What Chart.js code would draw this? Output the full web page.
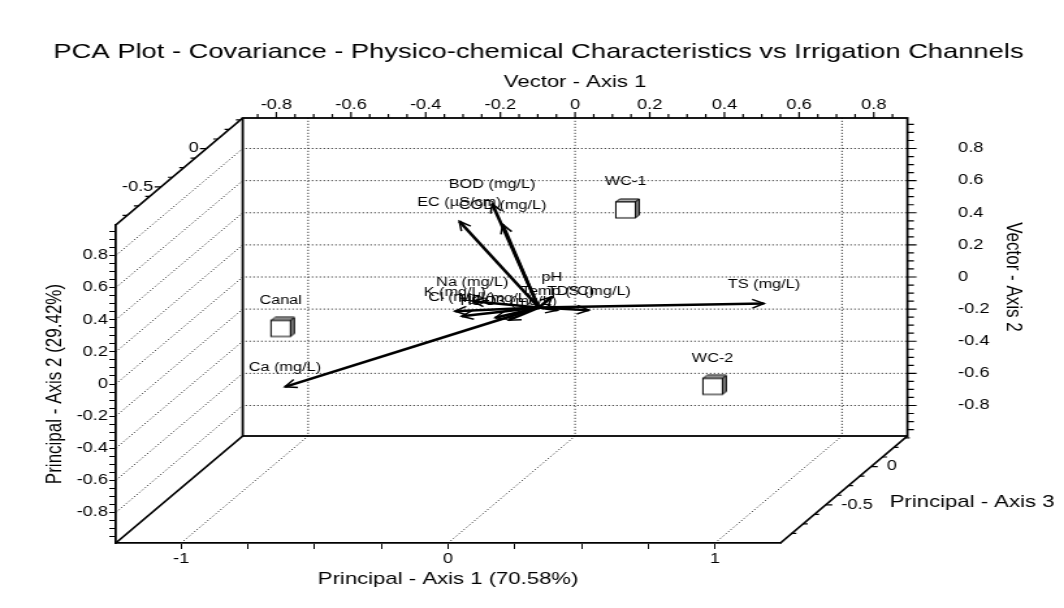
<!DOCTYPE html>
<html>
<head>
<meta charset="utf-8">
<script src="https://cdn.jsdelivr.net/npm/chart.js@4.4.1/dist/chart.umd.min.js"></script>
<style>
  html, body { margin: 0; padding: 0; background: #fff; }
</style>
</head>
<body>
<!-- drawn at 818px and stretched to 1064px, the source image is stretched the same way -->
<canvas id="pca" width="818" height="608" style="width:1064px;height:608px"></canvas>
<script>
// samples (PCA scores) - only two axes carry variance, so Axis 3 is 0
const samples = ['Canal', 'WC-1', 'WC-2'];
const sampleAxis1 = [-0.967, 0.325, 0.651];
const sampleAxis2 = [-0.130, 0.608, -0.491];
const sampleAxis3 = [0, 0, 0];

// variable vectors, tip read on the Vector axes
const variables = ['TS (mg/L)', 'Ca (mg/L)', 'EC (µS/cm)', 'BOD (mg/L)', 'COD (mg/L)', 'K (mg/L)', 'Na (mg/L)',
                   'Cl (mg/L)', 'Mg (mg/L)', 'HCO3 (mg/L)', 'pH', 'Temp (°C)', 'TDS (mg/L)'];
const vectorAxis1 = [0.506, -0.777, -0.310, -0.222, -0.194, -0.322, -0.275, -0.304, -0.214, -0.178, -0.062, -0.047, 0.037];
const vectorAxis2 = [-0.165, -0.684, 0.347, 0.456, 0.327, -0.213, -0.151, -0.244, -0.254, -0.269, -0.123, -0.207, -0.207];

// tick labels
const principal1Ticks = [-1, 0, 1];
const principal2Ticks = [-0.8, -0.6, -0.4, -0.2, 0, 0.2, 0.4, 0.6, 0.8];
const principal3Ticks = [-0.5, 0];
const vector1Ticks = [-0.8, -0.6, -0.4, -0.2, 0, 0.2, 0.4, 0.6, 0.8];
const vector2Ticks = [-0.8, -0.6, -0.4, -0.2, 0, 0.2, 0.4, 0.6, 0.8];

// axis ranges
const p1Range = [-1.245, 1.245];
const p2Range = [-0.99, 0.99];
const p3Range = [-1, 0.4];
const v1Range = [-0.89, 0.89];
const v2Range = [-0.99, 0.99];

// layout of the box (canvas px)
const W = 818, H = 608;
const plotLeft = 89, plotTop = 225, plotW = 511, plotH = 318;
const depthX = 97.6, depthY = 107;

const FONT = 'Arial, "Liberation Sans", sans-serif';
Chart.defaults.font.family = FONT;
Chart.defaults.color = '#000';

const steps = (a, b, s) => Array.from({length: Math.round((b - a) / s) + 1}, (_, i) => +(a + i * s).toFixed(4));
const isMajor = (v, list) => list.some(m => Math.abs(m - v) < 1e-6);
const tickLabel = (v, list) => isMajor(v, list) ? String(+v.toFixed(2)) : '';
const decimal = (scale, v) => (v - scale.min) / (scale.max - scale.min);

// range of a plane pushed back by frac of the depth
function shifted(range, frac) {
  const span = range[1] - range[0];
  return {min: range[0] - frac * span, max: range[1] - frac * span};
}
const sampleDepth = (sampleAxis3[0] - p3Range[0]) / (p3Range[1] - p3Range[0]);

// little 3d cube used as point style
const cube = document.createElement('canvas');
cube.width = 24; cube.height = 24;
(function () {
  const c = cube.getContext('2d');
  c.lineWidth = 1;
  c.strokeStyle = '#000';
  c.fillStyle = '#b5b5b5';
  c.beginPath(); c.moveTo(4.5, 4); c.lineTo(7.5, 1); c.lineTo(22.5, 1); c.lineTo(19.5, 4); c.closePath(); c.fill(); c.stroke();
  c.fillStyle = '#7a7a7a';
  c.beginPath(); c.moveTo(19.5, 4); c.lineTo(22.5, 1); c.lineTo(22.5, 17); c.lineTo(19.5, 20); c.closePath(); c.fill(); c.stroke();
  c.fillStyle = '#fff';
  c.fillRect(4.5, 4, 15, 16); c.strokeRect(4.5, 4, 15, 16);
})();

const frame3d = {
  id: 'frame3d',
  beforeDatasetsDraw(chart) {
    const {ctx, chartArea: a, scales} = chart;
    ctx.save();
    // dotted grid: side wall, floor, back wall
    ctx.strokeStyle = '#111';
    ctx.lineWidth = 1;
    ctx.setLineDash([1, 2]);
    ctx.beginPath();
    principal2Ticks.forEach(v => {
      const y = scales.y.getPixelForValue(v);
      ctx.moveTo(a.left, y);
      ctx.lineTo(a.left + depthX, y - depthY);
      ctx.lineTo(a.right + depthX, y - depthY);
    });
    principal1Ticks.forEach(v => {
      const x = scales.x.getPixelForValue(v);
      ctx.moveTo(x, a.bottom);
      ctx.lineTo(x + depthX, a.bottom - depthY);
      ctx.lineTo(x + depthX, a.top - depthY);
    });
    ctx.stroke();
    ctx.setLineDash([]);

    // box edges
    ctx.strokeStyle = '#000';
    ctx.lineWidth = 1.8;
    ctx.strokeRect(a.left + depthX, a.top - depthY, a.width, a.height);
    ctx.beginPath();
    ctx.moveTo(a.left, a.top); ctx.lineTo(a.left + depthX, a.top - depthY);
    ctx.moveTo(a.left, a.bottom); ctx.lineTo(a.left + depthX, a.bottom - depthY);
    ctx.moveTo(a.right, a.bottom); ctx.lineTo(a.right + depthX, a.bottom - depthY);
    ctx.stroke();

    // vector axes (top and right of the back wall)
    const topY = a.top - depthY, rightX = a.right + depthX;
    ctx.lineWidth = 1.2;
    ctx.beginPath();
    steps(-0.85, 0.85, 0.05).forEach(v => {
      const x = scales.vx.getPixelForValue(v);
      ctx.moveTo(x, topY); ctx.lineTo(x, topY - (isMajor(v, vector1Ticks) ? 6 : 4));
    });
    steps(-0.95, 0.95, 0.05).forEach(v => {
      const y = scales.vy.getPixelForValue(v);
      ctx.moveTo(rightX, y); ctx.lineTo(rightX + (isMajor(v, vector2Ticks) ? 7 : 5), y);
    });
    // depth axis on the two diagonals
    steps(-0.875, 0.375, 0.125).forEach(v => {
      const t = decimal(scales.z, v);
      const len = isMajor(v, principal3Ticks) ? 5 : 3.5;
      ctx.moveTo(a.left + t * depthX, a.top - t * depthY);
      ctx.lineTo(a.left + t * depthX - len, a.top - t * depthY);
      ctx.moveTo(a.right + t * depthX, a.bottom - t * depthY);
      ctx.lineTo(a.right + t * depthX + len, a.bottom - t * depthY);
    });
    ctx.stroke();

    ctx.fillStyle = '#000';
    ctx.font = '14px ' + FONT;
    ctx.textBaseline = 'middle';
    ctx.textAlign = 'center';
    vector1Ticks.forEach(v => ctx.fillText(String(v), scales.vx.getPixelForValue(v), topY - 13));
    ctx.textAlign = 'left';
    vector2Ticks.forEach(v => ctx.fillText(String(v), rightX + 39, scales.vy.getPixelForValue(v)));
    principal3Ticks.forEach(v => {
      const t = decimal(scales.z, v);
      ctx.textAlign = 'right';
      ctx.fillText(String(v), a.left + t * depthX - 6, a.top - t * depthY);
      ctx.textAlign = 'left';
      ctx.fillText(String(v), a.right + t * depthX + 12, a.bottom - t * depthY);
    });

    // titles
    ctx.font = '21px ' + FONT;
    ctx.textAlign = 'center';
    ctx.fillText('PCA Plot - Covariance - Physico-chemical Characteristics vs Irrigation Channels', 414, 52);
    ctx.font = '17px ' + FONT;
    ctx.fillText('Vector - Axis 1', a.left + depthX + a.width / 2, 82);
    ctx.textAlign = 'left';
    ctx.fillText('Principal - Axis 3', 684, 502);
    ctx.translate(779, a.top - depthY + a.height / 2);
    ctx.rotate(Math.PI / 2);
    ctx.textAlign = 'center';
    ctx.fillText('Vector - Axis 2', 0, 0);
    ctx.restore();
  },
  // the cubes can sit above the front frame, draw them without the area check
  beforeDatasetDraw(chart, args) {
    if (args.index !== 0) return;
    chart.getDatasetMeta(0).data.forEach(pt => pt.draw(chart.ctx));
    return false;
  },
  afterDatasetsDraw(chart) {
    const {ctx, scales} = chart;
    const ox = scales.sx.getPixelForValue(0), oy = scales.sy.getPixelForValue(0);
    ctx.save();
    ctx.strokeStyle = '#000';
    ctx.fillStyle = '#000';
    ctx.font = '12.5px ' + FONT;
    ctx.textAlign = 'center';
    ctx.textBaseline = 'middle';
    chart.getDatasetMeta(1).data.forEach((pt, i) => {
      const ang = Math.atan2(pt.y - oy, pt.x - ox);
      ctx.lineWidth = 2.6;
      ctx.beginPath(); ctx.moveTo(ox, oy); ctx.lineTo(pt.x, pt.y); ctx.stroke();
      ctx.lineWidth = 1.5;
      ctx.beginPath();
      ctx.moveTo(pt.x - 10 * Math.cos(ang - 0.45), pt.y - 10 * Math.sin(ang - 0.45));
      ctx.lineTo(pt.x, pt.y);
      ctx.lineTo(pt.x - 10 * Math.cos(ang + 0.45), pt.y - 10 * Math.sin(ang + 0.45));
      ctx.stroke();
      ctx.fillText(variables[i], pt.x, pt.y - 19);
    });
    chart.getDatasetMeta(0).data.forEach((pt, i) => ctx.fillText(samples[i], pt.x, pt.y - 28));
    ctx.restore();
  }
};

new Chart(document.getElementById('pca'), {
  type: 'scatter',
  data: {
    datasets: [
      {
        label: 'Samples',
        data: samples.map((s, i) => ({x: sampleAxis1[i], y: sampleAxis2[i]})),
        xAxisID: 'sx',
        yAxisID: 'sy',
        pointStyle: cube,
        pointRadius: 8,
        clip: false
      },
      {
        label: 'Variables',
        data: variables.map((v, i) => ({x: vectorAxis1[i], y: vectorAxis2[i]})),
        xAxisID: 'vx',
        yAxisID: 'vy',
        pointRadius: 0,
        clip: false
      }
    ]
  },
  options: {
    responsive: false,
    animation: false,
    devicePixelRatio: 1,
    events: [],
    layout: { padding: { top: plotTop, right: W - plotLeft - plotW, bottom: 0, left: 0 } },
    plugins: {
      legend: { display: false },
      tooltip: { enabled: false }
    },
    scales: {
      x: {
        type: 'linear', position: 'bottom', min: p1Range[0], max: p1Range[1],
        afterBuildTicks: s => { s.ticks = steps(-1, 1, 0.25).map(value => ({value})); },
        afterFit: s => { s.height = H - plotTop - plotH; },
        ticks: { autoSkip: false, maxRotation: 0, padding: 2, font: { size: 14 }, callback: v => tickLabel(v, principal1Ticks) },
        grid: { drawOnChartArea: false, tickLength: 6, color: '#000' },
        border: { color: '#000', width: 1.8 },
        title: { display: true, text: 'Principal - Axis 1 (70.58%)', font: { size: 17 }, padding: { top: 0, bottom: 18 } }
      },
      y: {
        type: 'linear', position: 'left', min: p2Range[0], max: p2Range[1],
        afterBuildTicks: s => { s.ticks = steps(-0.95, 0.95, 0.05).map(value => ({value})); },
        afterFit: s => { s.width = plotLeft; },
        ticks: { autoSkip: false, padding: 1, font: { size: 14 }, callback: v => tickLabel(v, principal2Ticks) },
        grid: { drawOnChartArea: false, tickLength: 5, color: '#000' },
        border: { color: '#000', width: 1.8 },
        title: { display: true, text: 'Principal - Axis 2 (29.42%)', font: { size: 17 }, padding: { top: 32, bottom: 0 } }
      },
      // plane of the samples (Axis 3 = 0)
      sx: { type: 'linear', axis: 'x', display: false, ...shifted(p1Range, sampleDepth * depthX / plotW) },
      sy: { type: 'linear', axis: 'y', display: false, ...shifted(p2Range, sampleDepth * depthY / plotH) },
      // back wall, where the vector axes are
      vx: { type: 'linear', axis: 'x', display: false, ...shifted(v1Range, depthX / plotW) },
      vy: { type: 'linear', axis: 'y', display: false, ...shifted(v2Range, depthY / plotH) },
      // depth
      z: { type: 'linear', axis: 'x', display: false, min: p3Range[0], max: p3Range[1] }
    }
  },
  plugins: [frame3d]
});
</script>
</body>
</html>
